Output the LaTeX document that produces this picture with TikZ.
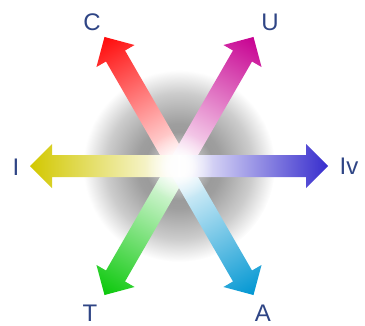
\documentclass[tikz,border=0pt]{standalone}
\usepackage{fontspec}
\setmainfont{Liberation Sans}
\usetikzlibrary{fadings}
\pgfdeclareradialshading{bgglow}{\pgfpoint{0bp}{0bp}}{color(0bp)=(black!44); color(11bp)=(black!38); color(19bp)=(black!20); color(25bp)=(white); color(50bp)=(white)}
\tikzfading[name=glowfade, inner color=transparent!0, outer color=transparent!100]
\definecolor{lbl}{RGB}{47,69,133}
\definecolor{cC}{RGB}{255,10,10}
\definecolor{cU}{RGB}{199,0,145}
\definecolor{cI}{RGB}{210,200,0}
\definecolor{cIv}{RGB}{55,45,205}
\definecolor{cT}{RGB}{10,200,10}
\definecolor{cA}{RGB}{0,150,210}
\begin{document}
\begin{tikzpicture}[x=1pt,y=1pt,
  lab/.style={text=lbl, font=\fontsize{24}{24}\selectfont, inner sep=0pt}]
\useasboundingbox (0,0) rectangle (365,325);
\coordinate (O) at (179,159);
\shade[shading=bgglow] (O) circle (96);
\foreach \ang/\col in {120/cC,60/cU,240/cT,300/cA,180/cI,0/cIv}{
  \begin{scope}[transform canvas={shift={(179pt,159pt)}, rotate=\ang}]
    \shade[left color=white, right color=\col]
      (0,-11) -- (127,-11) -- (127,-22) -- (149,0) -- (127,22) -- (127,11) -- (0,11) -- cycle;
  \end{scope}
}
\fill[white, path fading=glowfade] (O) circle (34);
\fill[white, path fading=glowfade] (O) circle (20);
\node[lab] (lC) at (92,303) {C};
\node[lab] (lU) at (270,303) {U};
\node[lab] (lI) at (16,158) {I};
\node[lab] (lIv) at (349,159) {Iv};
\node[lab] (lT) at (90,12) {T};
\node[lab] (lA) at (263,12) {A};
\end{tikzpicture}
\end{document}
